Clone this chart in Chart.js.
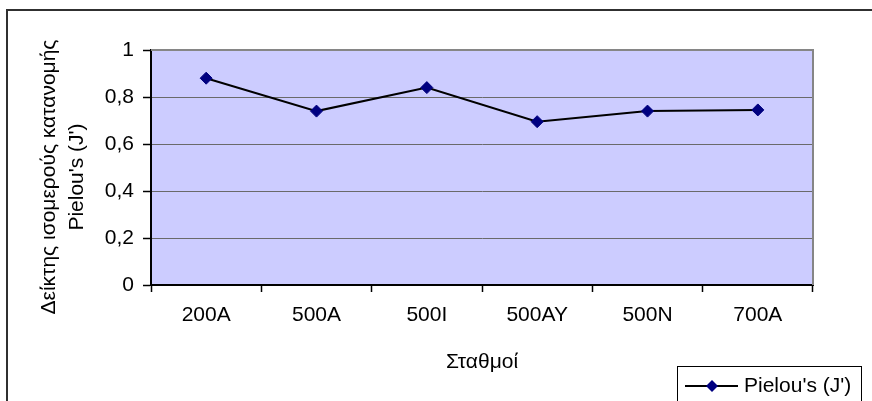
<!DOCTYPE html>
<html>
<head>
<meta charset="utf-8">
<script src="https://cdn.jsdelivr.net/npm/chart.js@4/dist/chart.umd.min.js"></script>
<style>
  html, body { margin: 0; padding: 0; background: #ffffff; }
  canvas { display: block; }
</style>
</head>
<body>
<canvas id="c" width="872" height="401"></canvas>
<script>
// Stations along the transect
const stations = ['200A', '500A', '500I', '500AY', '500N', '700A'];
// Pielou's evenness index J' per station
const pielouValues = [0.88, 0.74, 0.84, 0.695, 0.74, 0.745];
// Value axis tick labels (comma decimals)
const yTickLabels = ['0', '0,2', '0,4', '0,6', '0,8', '1'];

const seriesLabel = "Pielou's (J')";
const yTitle = ['Δείκτης ισομερούς κατανομής', "Pielou's (J')"];
const xTitle = 'Σταθμοί';

const FONT = 'Liberation Sans, Arial, sans-serif';
const FS = 21;

// Plot background, plot frame, outer frame, value-axis title and the legend box
const decorations = {
  id: 'decorations',
  beforeDraw(chart) {
    const { ctx, chartArea: a } = chart;
    ctx.save();
    ctx.fillStyle = '#ffffff';
    ctx.fillRect(0, 0, chart.width, chart.height);
    ctx.fillStyle = '#ccccff';
    ctx.fillRect(a.left, a.top, a.right - a.left, a.bottom - a.top);
    // outer chart frame
    ctx.strokeStyle = '#303030';
    ctx.lineWidth = 2;
    ctx.strokeRect(7, 10, 900, 420);
    ctx.restore();
  },
  afterDraw(chart) {
    const { ctx, chartArea: a } = chart;
    ctx.save();
    // top and right edges of the plot frame
    ctx.strokeStyle = '#868686';
    ctx.lineWidth = 2;
    ctx.beginPath();
    ctx.moveTo(a.left, a.top);
    ctx.lineTo(a.right, a.top);
    ctx.lineTo(a.right, a.bottom);
    ctx.stroke();

    // value-axis title, two rotated lines
    ctx.fillStyle = '#000000';
    ctx.font = FS + 'px ' + FONT;
    ctx.textAlign = 'center';
    ctx.textBaseline = 'middle';
    ctx.save();
    ctx.translate(49, 177);
    ctx.rotate(-Math.PI / 2);
    ctx.fillText(yTitle[0], 0, 0);
    ctx.fillText(yTitle[1], 0, 28);
    ctx.restore();

    // legend
    const ds = chart.data.datasets[0];
    ctx.strokeStyle = '#000000';
    ctx.lineWidth = 1;
    ctx.strokeRect(677.5, 366.5, 184, 60);
    const ly = 386;
    ctx.strokeStyle = ds.borderColor;
    ctx.lineWidth = 2;
    ctx.beginPath();
    ctx.moveTo(685, ly);
    ctx.lineTo(738, ly);
    ctx.stroke();
    ctx.fillStyle = ds.pointBackgroundColor;
    const r = 6;
    ctx.beginPath();
    ctx.moveTo(712, ly - r);
    ctx.lineTo(712 + r, ly);
    ctx.lineTo(712, ly + r);
    ctx.lineTo(712 - r, ly);
    ctx.closePath();
    ctx.fill();
    ctx.fillStyle = '#000000';
    ctx.font = FS + 'px ' + FONT;
    ctx.textBaseline = 'middle';
    ctx.textAlign = 'left';
    ctx.fillText(ds.label, 744, ly);
    ctx.restore();
  }
};

new Chart(document.getElementById('c'), {
  type: 'line',
  data: {
    labels: stations,
    datasets: [{
      label: seriesLabel,
      data: pielouValues,
      borderColor: '#000000',
      borderWidth: 2,
      pointStyle: 'rectRot',
      pointRadius: 6,
      pointHoverRadius: 6,
      pointBackgroundColor: '#000080',
      pointBorderColor: '#000080',
      pointBorderWidth: 1,
      tension: 0
    }]
  },
  options: {
    responsive: false,
    animation: false,
    events: [],
    layout: { padding: { left: 0, top: 50, right: 59, bottom: 0 } },
    plugins: {
      legend: { display: false },
      tooltip: { enabled: false }
    },
    scales: {
      x: {
        type: 'category',
        offset: true,
        grid: {
          offset: true,
          drawOnChartArea: false,
          drawTicks: true,
          tickLength: 7,
          tickColor: '#000000',
          tickWidth: 1.5
        },
        border: { color: '#000000', width: 2 },
        ticks: {
          color: '#000000',
          font: { family: FONT, size: FS },
          padding: 11,
          maxRotation: 0,
          autoSkip: false
        },
        title: {
          display: true,
          text: xTitle,
          color: '#000000',
          font: { family: FONT, size: FS },
          padding: { top: 0, bottom: 26 }
        },
        afterFit(scale) { scale.height = 116; }
      },
      y: {
        min: 0,
        max: 1,
        ticks: {
          stepSize: 0.2,
          color: '#000000',
          font: { family: FONT, size: FS },
          padding: 9,
          callback(value, index) { return yTickLabels[index]; }
        },
        grid: {
          color: '#6a6a6a',
          lineWidth: 1,
          drawTicks: true,
          tickLength: 8,
          tickColor: '#000000',
          tickWidth: 1.5
        },
        border: { color: '#000000', width: 2 },
        afterFit(scale) { scale.width = 151; }
      }
    }
  },
  plugins: [decorations]
});
</script>
</body>
</html>
